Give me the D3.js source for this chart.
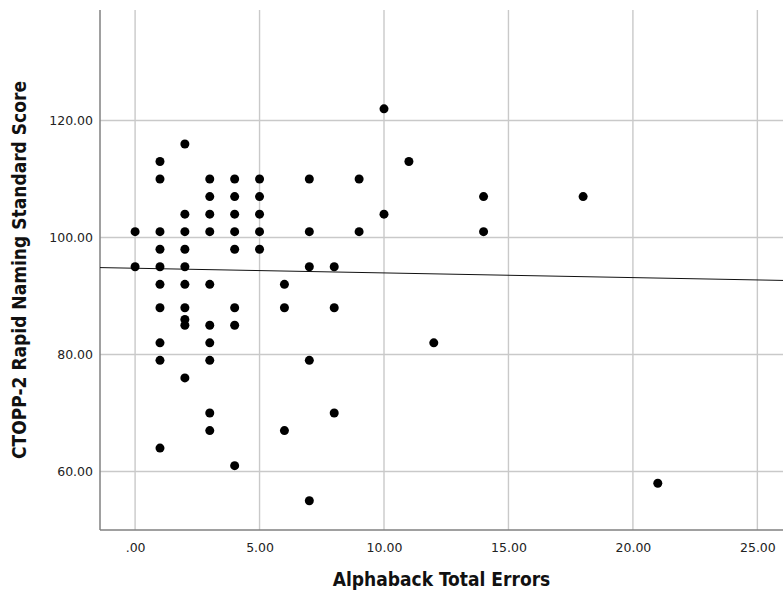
<!DOCTYPE html>
<html>
<head>
<meta charset="utf-8">
<script src="https://cdn.jsdelivr.net/npm/d3@7"></script>
<style>
  body { margin: 0; background: #fff; }
</style>
</head>
<body>
<svg id="chart" width="783" height="597"></svg>
<script>
// Alphaback errors (x) vs CTOPP-2 rapid naming score (y), one entry per child
const errors = [
  0, 0,
  1, 1, 1, 1, 1, 1, 1, 1, 1, 1,
  2, 2, 2, 2, 2, 2, 2, 2, 2, 2,
  3, 3, 3, 3, 3, 3, 3, 3, 3, 3,
  4, 4, 4, 4, 4, 4, 4, 4,
  5, 5, 5, 5, 5,
  6, 6, 6,
  7, 7, 7, 7, 7,
  8, 8, 8,
  9, 9,
  10, 10,
  11, 12, 14, 14, 18, 21
];
const scores = [
  101, 95,
  113, 110, 101, 98, 95, 92, 88, 82, 79, 64,
  116, 104, 101, 98, 95, 92, 88, 86, 85, 76,
  110, 107, 104, 101, 92, 85, 82, 79, 70, 67,
  110, 107, 104, 101, 98, 88, 85, 61,
  110, 107, 104, 101, 98,
  92, 88, 67,
  110, 101, 95, 79, 55,
  95, 88, 70,
  110, 101,
  122, 104,
  113, 82, 107, 101, 107, 58
];

const xTicks = [0, 5, 10, 15, 20, 25];
const yTicks = [60, 80, 100, 120];
const xTitle = "Alphaback Total Errors";
const yTitle = "CTOPP-2 Rapid Naming Standard Score";

// linear fit line
const fitIntercept = 94.75;
const fitSlope = -0.08;

const svg = d3.select("#chart");
const plotL = 100, plotR = 783, plotT = 10, plotB = 530;

const x = d3.scaleLinear().domain([-1.41, 26.03]).range([plotL, plotR]);
const y = d3.scaleLinear().domain([50, 138.9]).range([plotB, plotT]);

const fmt = d => (d === 0 ? ".00" : d3.format(".2f")(d));

// grid
svg.append("g")
  .selectAll("line")
  .data(xTicks)
  .join("line")
  .attr("x1", d => x(d)).attr("x2", d => x(d))
  .attr("y1", plotT).attr("y2", plotB)
  .attr("stroke", "#c9c9c9")
  .attr("stroke-width", 1.4);

svg.append("g")
  .selectAll("line")
  .data(yTicks)
  .join("line")
  .attr("x1", plotL).attr("x2", plotR)
  .attr("y1", d => y(d)).attr("y2", d => y(d))
  .attr("stroke", "#c9c9c9")
  .attr("stroke-width", 1.4);

// axes (no tick marks, just the line and labels)
const xAxis = svg.append("g")
  .attr("transform", `translate(0,${plotB})`)
  .call(d3.axisBottom(x).tickValues(xTicks).tickFormat(fmt).tickSize(0).tickPadding(13));
const yAxis = svg.append("g")
  .attr("transform", `translate(${plotL},0)`)
  .call(d3.axisLeft(y).tickValues(yTicks).tickFormat(fmt).tickSize(0).tickPadding(7));

[xAxis, yAxis].forEach(a => {
  a.select(".domain").attr("stroke", "#808080").attr("stroke-width", 1.5);
  a.selectAll("text")
    .attr("fill", "#222")
    .style("font-family", "'DejaVu Sans', sans-serif")
    .style("font-size", "12.5px");
});
xAxis.select(".domain").attr("d", `M${plotL},0H${plotR}`);
yAxis.select(".domain").attr("d", `M0,${plotT}V${plotB}`);

// fit line
const xd = x.domain();
svg.append("line")
  .attr("x1", x(xd[0])).attr("y1", y(fitIntercept + fitSlope * xd[0]))
  .attr("x2", x(xd[1])).attr("y2", y(fitIntercept + fitSlope * xd[1]))
  .attr("stroke", "#111")
  .attr("stroke-width", 1);

// points
svg.append("g")
  .selectAll("circle")
  .data(errors.map((e, i) => [e, scores[i]]))
  .join("circle")
  .attr("cx", d => x(d[0]))
  .attr("cy", d => y(d[1]))
  .attr("r", 4.5)
  .attr("fill", "#000");

// titles
const titleFont = "'Liberation Sans Narrow', 'DejaVu Sans Condensed', sans-serif";
svg.append("text")
  .attr("x", (plotL + plotR) / 2)
  .attr("y", 586)
  .attr("text-anchor", "middle")
  .style("font-family", titleFont)
  .style("font-weight", "bold")
  .style("font-size", "19px")
  .attr("fill", "#111")
  .text(xTitle);

svg.append("text")
  .attr("transform", `translate(26,${(plotT + plotB) / 2}) rotate(-90)`)
  .attr("text-anchor", "middle")
  .style("font-family", titleFont)
  .style("font-weight", "bold")
  .style("font-size", "19px")
  .attr("fill", "#111")
  .text(yTitle);
</script>
</body>
</html>
